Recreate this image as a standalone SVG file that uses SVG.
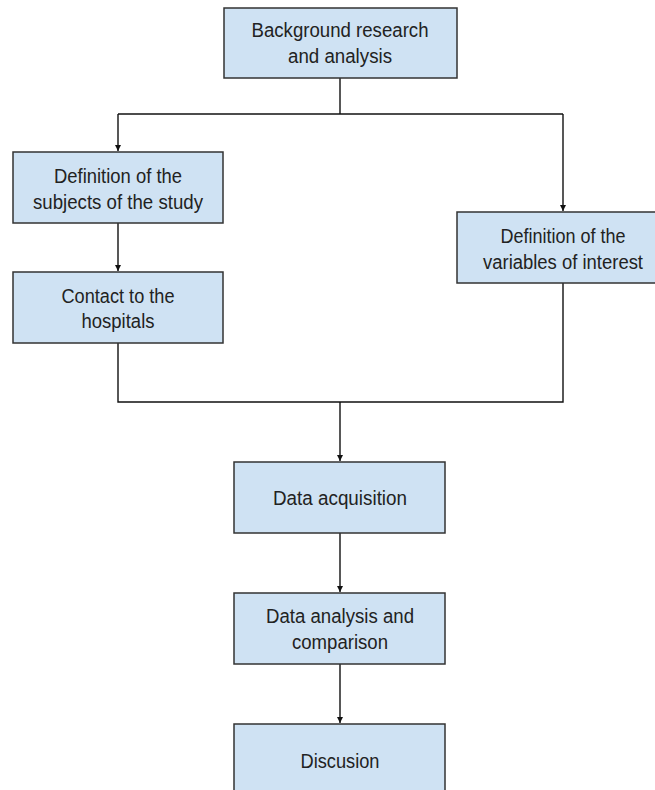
<svg xmlns="http://www.w3.org/2000/svg" width="655" height="790" viewBox="0 0 655 790">
<defs>
<style>
.box{fill:#cfe2f3;stroke:#333;stroke-width:1.5}
.lbl{font-family:"Liberation Sans",Arial,sans-serif;font-size:20px;fill:#222;text-anchor:middle}
.ln{fill:none;stroke:#111;stroke-width:1.4}
</style>
<marker id="ah" markerUnits="userSpaceOnUse" markerWidth="8" markerHeight="8" refX="6" refY="3" orient="auto">
<path d="M0,0 L6,3 L0,6 Z" fill="#111"/>
</marker>
</defs>
<rect width="655" height="790" fill="#fff"/>
<g id="connectors">
<path class="ln" d="M340,78 V114"/>
<path class="ln" d="M118,114 H563"/>
<path class="ln" d="M118,114 V151" marker-end="url(#ah)"/>
<path class="ln" d="M563,114 V211" marker-end="url(#ah)"/>
<path class="ln" d="M118,223 V271" marker-end="url(#ah)"/>
<path class="ln" d="M118,343 V402 H563 V283"/>
<path class="ln" d="M340,402 V461" marker-end="url(#ah)"/>
<path class="ln" d="M340,533 V592" marker-end="url(#ah)"/>
<path class="ln" d="M340,664 V723" marker-end="url(#ah)"/>
</g>
<g id="n1">
<rect class="box" x="224" y="8" width="233" height="70"/>
<text class="lbl" x="340" y="37" textLength="177" lengthAdjust="spacingAndGlyphs">Background research</text>
<text class="lbl" x="340" y="63" textLength="104" lengthAdjust="spacingAndGlyphs">and analysis</text>
</g>
<g id="n2">
<rect class="box" x="13" y="152" width="210" height="71"/>
<text class="lbl" x="118" y="183" textLength="128" lengthAdjust="spacingAndGlyphs">Definition of the</text>
<text class="lbl" x="118" y="209" textLength="170" lengthAdjust="spacingAndGlyphs">subjects of the study</text>
</g>
<g id="n3">
<rect class="box" x="13" y="272" width="210" height="71"/>
<text class="lbl" x="118" y="303" textLength="113" lengthAdjust="spacingAndGlyphs">Contact to the</text>
<text class="lbl" x="118" y="328" textLength="73" lengthAdjust="spacingAndGlyphs">hospitals</text>
</g>
<g id="n4">
<rect class="box" x="457" y="212" width="200" height="71"/>
<text class="lbl" x="563" y="243" textLength="125" lengthAdjust="spacingAndGlyphs">Definition of the</text>
<text class="lbl" x="563" y="269" textLength="160" lengthAdjust="spacingAndGlyphs">variables of interest</text>
</g>
<g id="n5">
<rect class="box" x="234" y="462" width="211" height="71"/>
<text class="lbl" x="340" y="505" textLength="134" lengthAdjust="spacingAndGlyphs">Data acquisition</text>
</g>
<g id="n6">
<rect class="box" x="234" y="593" width="211" height="71"/>
<text class="lbl" x="340" y="623" textLength="148" lengthAdjust="spacingAndGlyphs">Data analysis and</text>
<text class="lbl" x="340" y="649" textLength="96" lengthAdjust="spacingAndGlyphs">comparison</text>
</g>
<g id="n7">
<rect class="box" x="234" y="724" width="211" height="90"/>
<text class="lbl" x="340" y="768" textLength="79" lengthAdjust="spacingAndGlyphs">Discusion</text>
</g>
</svg>
